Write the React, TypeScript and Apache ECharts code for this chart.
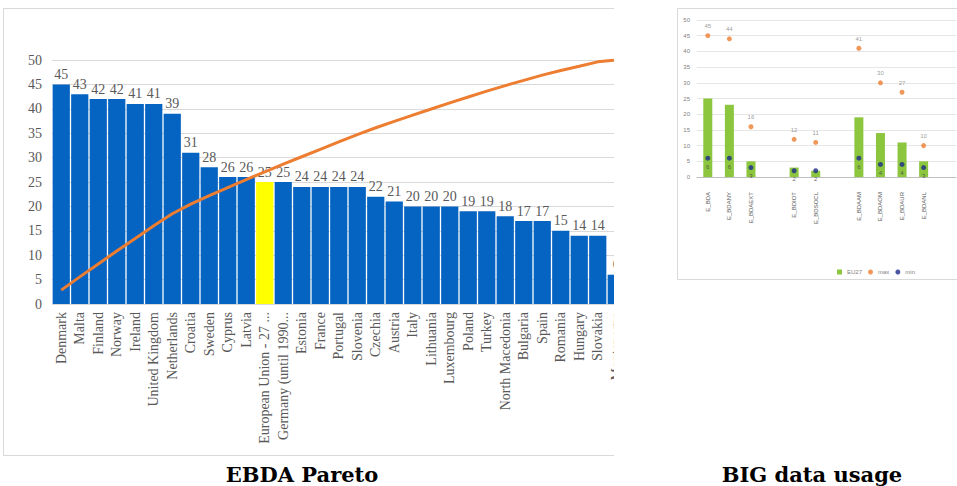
import React, { useEffect, useRef } from "react";
import * as echarts from "echarts";

// EBDA Pareto: share of enterprises by country, sorted descending
const countries = [
  "Denmark", "Malta", "Finland", "Norway", "Ireland", "United Kingdom", "Netherlands",
  "Croatia", "Sweden", "Cyprus", "Latvia", "European Union - 27 ...", "Germany (until 1990...",
  "Estonia", "France", "Portugal", "Slovenia", "Czechia", "Austria", "Italy", "Lithuania",
  "Luxembourg", "Poland", "Turkey", "North Macedonia", "Bulgaria", "Spain", "Romania",
  "Hungary", "Slovakia", "Montenegro",
];
const countryValues = [
  45, 43, 42, 42, 41, 41, 39, 31, 28, 26, 26, 25, 25, 24, 24, 24, 24, 22, 21, 20, 20, 20,
  19, 19, 18, 17, 17, 15, 14, 14, 6,
];
const highlighted = "European Union - 27 ...";

// BIG data usage: EU27 value with the highest and lowest national value per indicator
const indicators = [
  "E_BDA", "E_BDANY", "E_BDAEXT", " ", "E_BDIOT", "E_BDSOCL", "  ",
  "E_BDAAM", "E_BDAOM", "E_BDAUR", "E_BDANL", "   ",
];
const eu27 = [25, 23, 5, null, 3, 2, null, 19, 14, 11, 5, null];
const maxValues = [45, 44, 16, null, 12, 11, null, 41, 30, 27, 10, null];
const minValues = [6, 6, 3, null, 2, 2, null, 6, 4, 4, 3, null];

const serif = '"Liberation Serif", serif';
const sans = '"Liberation Sans", sans-serif';

export default function App() {
  const ref = useRef<HTMLDivElement>(null);

  useEffect(() => {
    if (!ref.current) return;
    const chart = echarts.init(ref.current, undefined, { renderer: "svg" });

    // Pareto line: running share of the total, on a hidden 0-100 axis
    const total = countryValues.reduce((a, b) => a + b, 0);
    let running = 0;
    const cumulativeShare = countryValues.map((v) => {
      running += v;
      return +((running / total) * 100).toFixed(2);
    });

    const border = "#D9D9D9";

    chart.setOption({
      animation: false,
      backgroundColor: "#ffffff",
      legend: {
        data: [
          { name: "EU27", icon: "rect" },
          { name: "max", icon: "circle" },
          { name: "min", icon: "circle" },
        ],
        left: 832,
        top: 264,
        itemWidth: 5,
        itemHeight: 5,
        itemGap: 6,
        textStyle: { fontSize: 6, color: "#7F7F7F", fontFamily: sans },
      },
      grid: [
        { left: 52, top: 60, width: 573.5, height: 244 },
        { left: 697, top: 20, width: 259, height: 157 },
      ],
      xAxis: [
        {
          type: "category",
          gridIndex: 0,
          data: countries,
          axisLine: { show: false },
          axisTick: { show: false },
          axisLabel: {
            rotate: 90,
            interval: 0,
            margin: 8,
            fontSize: 14,
            fontFamily: serif,
            color: "#595959",
          },
        },
        {
          type: "category",
          gridIndex: 1,
          data: indicators,
          axisLine: { show: true, lineStyle: { color: "#BFBFBF", width: 1 } },
          axisTick: { show: false },
          axisLabel: {
            rotate: 90,
            interval: 0,
            margin: 15,
            fontSize: 6,
            fontFamily: sans,
            color: "#595959",
          },
        },
      ],
      yAxis: [
        {
          type: "value",
          gridIndex: 0,
          min: 0,
          max: 50,
          interval: 5,
          axisLine: { show: false },
          axisTick: { show: false },
          axisLabel: { margin: 10, fontSize: 14, fontFamily: serif, color: "#595959" },
          splitLine: { lineStyle: { color: border, width: 1 } },
        },
        {
          type: "value",
          gridIndex: 0,
          min: 0,
          max: 100,
          show: false,
          splitLine: { show: false },
        },
        {
          type: "value",
          gridIndex: 1,
          min: 0,
          max: 50,
          interval: 5,
          axisLine: { show: false },
          axisTick: { show: false },
          axisLabel: { margin: 7, fontSize: 6, fontFamily: sans, color: "#7F7F7F" },
          splitLine: { lineStyle: { color: "#E6E6E6", width: 1 } },
        },
      ],
      series: [
        {
          name: "Share",
          type: "bar",
          xAxisIndex: 0,
          yAxisIndex: 0,
          barCategoryGap: "7%",
          data: countryValues.map((v, i) => ({
            value: v,
            itemStyle: { color: countries[i] === highlighted ? "#FFFF00" : "#0563C1" },
          })),
          label: {
            show: true,
            position: "top",
            distance: 3,
            fontSize: 14,
            fontFamily: serif,
            color: "#595959",
          },
          z: 2,
        },
        {
          name: "Cumulative",
          type: "line",
          xAxisIndex: 0,
          yAxisIndex: 1,
          data: cumulativeShare,
          showSymbol: false,
          lineStyle: { color: "#ED7D31", width: 3 },
          itemStyle: { color: "#ED7D31" },
          z: 5,
        },
        {
          name: "EU27",
          type: "bar",
          xAxisIndex: 1,
          yAxisIndex: 2,
          barWidth: 9,
          data: eu27,
          itemStyle: { color: "#8CC63F" },
        },
        {
          name: "max",
          type: "scatter",
          xAxisIndex: 1,
          yAxisIndex: 2,
          data: maxValues,
          symbolSize: 5,
          itemStyle: { color: "#ED7D31" },
          label: {
            show: true,
            position: "top",
            distance: 4,
            fontSize: 6,
            fontFamily: sans,
            color: "#7F7F7F",
          },
        },
        {
          name: "min",
          type: "scatter",
          xAxisIndex: 1,
          yAxisIndex: 2,
          data: minValues,
          symbolSize: 5,
          itemStyle: { color: "#1B2A8A" },
          label: {
            show: true,
            position: "bottom",
            distance: 3,
            fontSize: 6,
            fontFamily: sans,
            color: "#404040",
          },
        },
      ],
      graphic: [
        // mask the Pareto overflow between the two panels
        {
          type: "rect",
          z: 100,
          shape: { x: 614, y: 0, width: 62, height: 460 },
          style: { fill: "#ffffff" },
        },
        // left panel frame
        { type: "line", z: 101, shape: { x1: 3.5, y1: 8.5, x2: 614, y2: 8.5 }, style: { stroke: border, lineWidth: 1 } },
        { type: "line", z: 101, shape: { x1: 3.5, y1: 8.5, x2: 3.5, y2: 455.5 }, style: { stroke: border, lineWidth: 1 } },
        { type: "line", z: 101, shape: { x1: 3.5, y1: 455.5, x2: 614, y2: 455.5 }, style: { stroke: border, lineWidth: 1 } },
        // right panel frame
        { type: "line", z: 101, shape: { x1: 677.5, y1: 8.5, x2: 957, y2: 8.5 }, style: { stroke: border, lineWidth: 1 } },
        { type: "line", z: 101, shape: { x1: 677.5, y1: 8.5, x2: 677.5, y2: 279.5 }, style: { stroke: border, lineWidth: 1 } },
        { type: "line", z: 101, shape: { x1: 677.5, y1: 279.5, x2: 957, y2: 279.5 }, style: { stroke: border, lineWidth: 1 } },
        // captions
        {
          type: "text",
          z: 101,
          x: 302,
          y: 474,
          style: {
            text: "EBDA Pareto",
            fontSize: 21,
            fontWeight: "bold",
            fontFamily: '"DejaVu Serif", serif',
            fill: "#000000",
            align: "center",
            verticalAlign: "middle",
          },
        },
        {
          type: "text",
          z: 101,
          x: 812,
          y: 474,
          style: {
            text: "BIG data usage",
            fontSize: 21,
            fontWeight: "bold",
            fontFamily: '"DejaVu Serif", serif',
            fill: "#000000",
            align: "center",
            verticalAlign: "middle",
          },
        },
      ],
    });

    return () => chart.dispose();
  }, []);

  return (
    <div
      ref={ref}
      style={{
        position: "fixed",
        left: 0,
        top: 0,
        width: 957,
        height: 486,
        background: "#ffffff",
      }}
    />
  );
}
